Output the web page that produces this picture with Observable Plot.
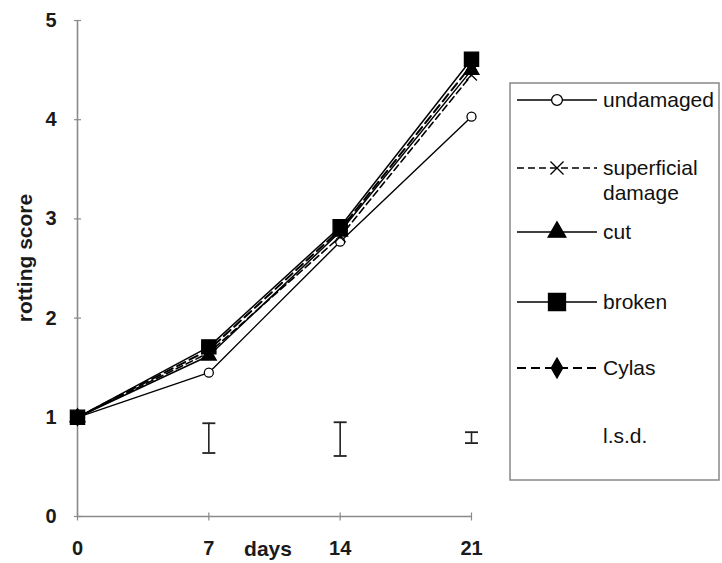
<!DOCTYPE html>
<html><head><meta charset="utf-8">
<script src="https://cdn.jsdelivr.net/npm/d3@7"></script>
<script src="https://cdn.jsdelivr.net/npm/@observablehq/plot@0.6"></script>
<style>
body{margin:0;background:#fff}
#chart{position:relative;width:722px;height:563px}
svg text{font-family:"Liberation Sans",Arial,sans-serif}
</style>
</head><body><div id="chart"></div>
<script>
// ---- data ----
const days = [0, 7, 14, 21];
const undamaged   = [1.00, 1.45, 2.77, 4.03];
const superficial = [1.00, 1.65, 2.82, 4.45];
const cut         = [1.00, 1.62, 2.87, 4.50];
const broken      = [1.00, 1.71, 2.92, 4.61];
const cylas       = [1.00, 1.68, 2.89, 4.55];
const seriesNames = ["undamaged", "superficial damage", "cut", "broken", "Cylas"];
const lsdDays = [7, 14, 21];
const lsdLow  = [0.64, 0.61, 0.74];
const lsdHigh = [0.94, 0.95, 0.85];
const yTicks = [0, 1, 2, 3, 4, 5];
const xTicks = [0, 7, 14, 21];
const xLabel = "days";
const yLabel = "rotting score";
const lsdLabel = "l.s.d.";

// ---- styles ----
const seriesValues = [undamaged, superficial, cut, broken, cylas];
const styles = [
  {symbol: "circle",   fill: "white", stroke: "black", r: 4.5, dash: null,  sw: 1.4},
  {symbol: "times",    fill: "none",  stroke: "black", r: 5,   dash: "7,4", sw: 1.6},
  {symbol: "triangle", fill: "black", stroke: "black", r: 5.5, dash: null,  sw: 1.5},
  {symbol: "square",   fill: "black", stroke: "black", r: 8,   dash: null,  sw: 1.5},
  {symbol: "diamond",  fill: "black", stroke: "black", r: 5,   dash: "9,5", sw: 2}
];

const rows = [];
seriesNames.forEach((name, i) => days.forEach((d, j) => rows.push({series: name, idx: i, day: d, value: seriesValues[i][j]})));
const lsd = lsdDays.map((d, i) => ({day: d, low: lsdLow[i], high: lsdHigh[i]}));

const hbar = {draw(ctx, size) { const r = Math.sqrt(size / Math.PI); ctx.moveTo(-r, 0); ctx.lineTo(r, 0); }};
const vbar = {draw(ctx, size) { const r = Math.sqrt(size / Math.PI); ctx.moveTo(0, -r); ctx.lineTo(0, r); }};

const marks = [
  Plot.ruleX([0], {stroke: "#8a8a8a", strokeWidth: 1.6}),
  Plot.ruleY([0], {stroke: "#8a8a8a", strokeWidth: 1.6}),
  Plot.dot(yTicks, {x: 0, y: d => d, symbol: hbar, r: 3.5, stroke: "#8a8a8a", strokeWidth: 1.2}),
  Plot.dot(xTicks, {x: d => d, y: 0, symbol: vbar, r: 4, stroke: "#8a8a8a", strokeWidth: 1.2}),
  Plot.axisY({ticks: yTicks, tickSize: 0, tickPadding: 21, fontSize: 20, fontWeight: "bold", tickFormat: d => d, fill: "#1a1a1a"}),
  Plot.axisX({ticks: xTicks, tickSize: 0, tickPadding: 24, fontSize: 20, fontWeight: "bold", tickFormat: d => d, fill: "#1a1a1a", label: null}),
  Plot.ruleX(lsd, {x: "day", y1: "low", y2: "high", stroke: "#222", strokeWidth: 1.6}),
  Plot.dot(lsd, {x: "day", y: "low", symbol: hbar, r: 6.5, stroke: "#222", strokeWidth: 1.8}),
  Plot.dot(lsd, {x: "day", y: "high", symbol: hbar, r: 6.5, stroke: "#222", strokeWidth: 1.8})
];
styles.forEach((s, i) => {
  marks.push(Plot.line(rows.filter(r => r.idx === i), {x: "day", y: "value", stroke: "black", strokeWidth: s.sw, strokeDasharray: s.dash}));
});
styles.forEach((s, i) => {
  marks.push(Plot.dot(rows.filter(r => r.idx === i), {x: "day", y: "value", symbol: s.symbol, r: s.r, fill: s.fill, stroke: s.stroke, strokeWidth: 1.3}));
});

const plot = Plot.plot({
  width: 722, height: 563,
  marginLeft: 77, marginRight: 251, marginTop: 20, marginBottom: 47,
  x: {domain: [0, 21], axis: null},
  y: {domain: [0, 5], axis: null},
  style: {fontFamily: "'Liberation Sans', Arial, sans-serif", background: "#fff"},
  marks
});
document.getElementById("chart").appendChild(plot);

// ---- labels & legend ----
const svg = d3.select(plot);
svg.append("text").attr("x", 268).attr("y", 556).attr("text-anchor", "middle")
  .attr("font-size", 21).attr("font-weight", "bold").attr("fill", "#1a1a1a").text(xLabel);
svg.append("text").attr("transform", "translate(32,258) rotate(-90)").attr("text-anchor", "middle")
  .attr("font-size", 21).attr("font-weight", "bold").attr("fill", "#1a1a1a").text(yLabel);

const lg = svg.append("g").attr("text-anchor", "start");
lg.append("rect").attr("x", 510).attr("y", 83).attr("width", 209).attr("height", 397)
  .attr("fill", "white").attr("stroke", "#888").attr("stroke-width", 1.5);
const rowY = [100, 168, 232, 302, 368];
const symMap = {circle: d3.symbolCircle, times: d3.symbolTimes, triangle: d3.symbolTriangle, square: d3.symbolSquare, diamond: d3.symbolDiamond};
styles.forEach((s, i) => {
  const y = rowY[i];
  lg.append("line").attr("x1", 517).attr("x2", 597).attr("y1", y).attr("y2", y)
    .attr("stroke", "black").attr("stroke-width", s.sw).attr("stroke-dasharray", s.dash);
  const lr = s.r * 1.2;
  lg.append("path").attr("transform", `translate(557,${y})`)
    .attr("d", d3.symbol(symMap[s.symbol], Math.PI * lr * lr)())
    .attr("fill", s.fill).attr("stroke", s.stroke).attr("stroke-width", 1.3);
  const words = seriesNames[i].split(" ");
  const t = lg.append("text").attr("x", 603).attr("y", y).attr("font-size", 21).attr("fill", "#111");
  words.forEach((w, k) => t.append("tspan").attr("x", 603).attr("dy", k === 0 ? "0.35em" : "1.15em").text(w));
});
lg.append("text").attr("x", 603).attr("y", 436).attr("dy", "0.35em").attr("font-size", 21).attr("fill", "#111").text(lsdLabel);
</script>
</body></html>
